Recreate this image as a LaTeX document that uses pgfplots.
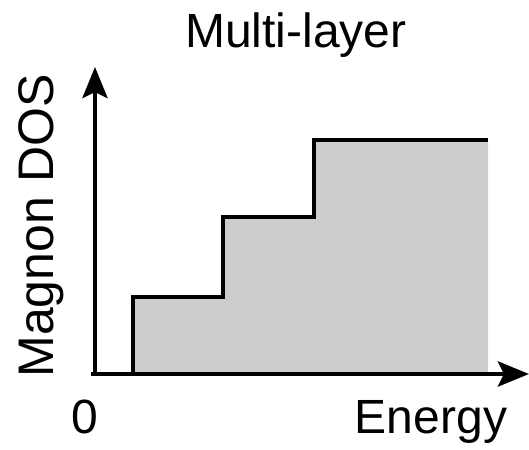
\documentclass[border=0pt]{standalone}
\usepackage{pgfplots}
\pgfplotsset{compat=1.18}
\usepackage{fontspec}
\setmainfont{Liberation Sans}
\usetikzlibrary{arrows.meta}
\definecolor{fillgray}{HTML}{CCCCCC}
\begin{document}
\begin{tikzpicture}[x=1pt,y=1pt]
\useasboundingbox (-95,-75) rectangle (434,374);
\begin{axis}[
  at={(0pt,0pt)}, anchor=origin,
  scale only axis, width=434pt, height=307pt,
  xmin=0, xmax=434, ymin=0, ymax=307,
  axis lines=none, clip=false,
]
\addplot[fill=fillgray, draw=none] coordinates {(38,0) (38,77) (128,77) (128,157) (219,157) (219,234) (393,234) (393,0)} \closedcycle;
\addplot[black, line width=4.5pt, line join=miter, mark=none] coordinates {(38,0) (38,77) (128,77) (128,157) (219,157) (219,234) (393,234)};
\draw[line width=4.5pt, -{Stealth[length=31pt,width=25pt,inset=6pt]}] (axis cs:-4,0) -- (axis cs:434,0);
\draw[line width=4.5pt, -{Stealth[length=31pt,width=25pt,inset=6pt]}] (axis cs:0,-2) -- (axis cs:0,307);
\end{axis}
\node[anchor=base, inner sep=0, font=\fontsize{48}{52}\selectfont] at (201,326) {Multi-layer};
\node[anchor=base, inner sep=0, rotate=90, font=\fontsize{50}{54}\selectfont] at (-42,148) {Magnon DOS};
\node[anchor=base, inner sep=0, font=\fontsize{48}{52}\selectfont] at (336,-59) {Energy};
\node[anchor=base, inner sep=0, font=\fontsize{48}{52}\selectfont] at (-10,-59) {0};
\end{tikzpicture}
\end{document}
